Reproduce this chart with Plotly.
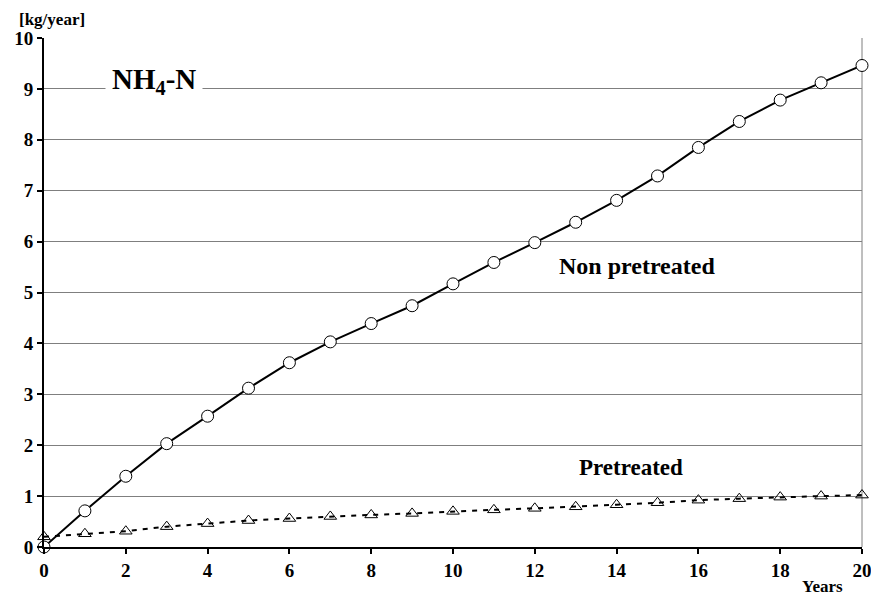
import plotly.graph_objects as go

years = list(range(0, 21))
non_pretreated = [0.0, 0.71, 1.39, 2.03, 2.57, 3.12, 3.62, 4.03, 4.39, 4.74, 5.17,
                  5.59, 5.98, 6.38, 6.81, 7.29, 7.85, 8.36, 8.78, 9.12, 9.46]
pretreated = [0.20, 0.26, 0.31, 0.40, 0.46, 0.52, 0.56, 0.60, 0.63, 0.66, 0.70,
              0.73, 0.76, 0.79, 0.83, 0.87, 0.92, 0.95, 0.98, 1.00, 1.02]
x_ticks = list(range(0, 21, 2))
y_ticks = list(range(0, 11))

FONT = "Liberation Serif, Times New Roman, serif"

# plot-area geometry (pixels) used to place paper-referenced labels
L, R, T, B, W, H = 44, 9, 38, 52, 871, 599
PW, PH = W - L - R, H - T - B

fig = go.Figure()
fig.add_trace(go.Scatter(
    x=years, y=pretreated, mode="lines+markers",
    line=dict(color="black", width=2, dash="5px,6px"),
    marker=dict(symbol="triangle-up-open", size=11, color="black", line=dict(width=1)),
    cliponaxis=False, showlegend=False,
))
fig.add_trace(go.Scatter(
    x=years, y=non_pretreated, mode="lines+markers",
    line=dict(color="black", width=2),
    marker=dict(symbol="circle", size=12, color="white", line=dict(color="black", width=1)),
    cliponaxis=False, showlegend=False,
))

fig.update_layout(
    width=W, height=H, autosize=False,
    margin=dict(l=L, r=R, t=T, b=B),
    paper_bgcolor="white", plot_bgcolor="white",
    font=dict(family=FONT, color="black"),
    xaxis=dict(range=[0, 20], tickvals=x_ticks, ticks="outside", ticklen=5,
               tickwidth=2, tickcolor="black", showline=True, linecolor="black",
               linewidth=2, showgrid=False, zeroline=False, automargin=False,
               ticklabeloverflow="allow",
               tickfont=dict(family=FONT, size=19, color="black", weight="bold")),
    yaxis=dict(range=[0, 10], tickvals=y_ticks, ticks="outside", ticklen=5,
               tickwidth=2, tickcolor="black", showline=True, linecolor="black",
               linewidth=2, showgrid=True, gridcolor="#7f7f7f", gridwidth=1,
               zeroline=False, automargin=False, ticklabeloverflow="allow",
               tickfont=dict(family=FONT, size=19, color="black", weight="bold")),
    shapes=[dict(type="line", xref="paper", yref="paper", x0=1, x1=1, y0=0, y1=1,
                 line=dict(color="#7f7f7f", width=1), layer="below")],
    annotations=[
        dict(text="NH<sub>4</sub>-N", x=2.7, y=9.16, xref="x", yref="y",
             showarrow=False, bgcolor="white", borderpad=6,
             font=dict(family=FONT, size=29, color="black", weight="bold")),
        dict(text="Non pretreated", x=14.5, y=5.53, xref="x", yref="y",
             showarrow=False,
             font=dict(family=FONT, size=24, color="black", weight="bold")),
        dict(text="Pretreated", x=14.36, y=1.57, xref="x", yref="y",
             showarrow=False,
             font=dict(family=FONT, size=23, color="black", weight="bold")),
        dict(text="[kg/year]", x=(52 - L) / PW, y=(H - B - 19) / PH,
             xref="paper", yref="paper", showarrow=False,
             xanchor="center", yanchor="middle",
             font=dict(family=FONT, size=17, color="black", weight="bold")),
        dict(text="Years", x=(822 - L) / PW, y=(H - B - 586) / PH,
             xref="paper", yref="paper", showarrow=False,
             xanchor="center", yanchor="middle",
             font=dict(family=FONT, size=17, color="black", weight="bold")),
    ],
)

fig.write_html("out.html", config={"displayModeBar": False},
               post_script="document.body.style.margin='0';document.body.style.padding='0';")
